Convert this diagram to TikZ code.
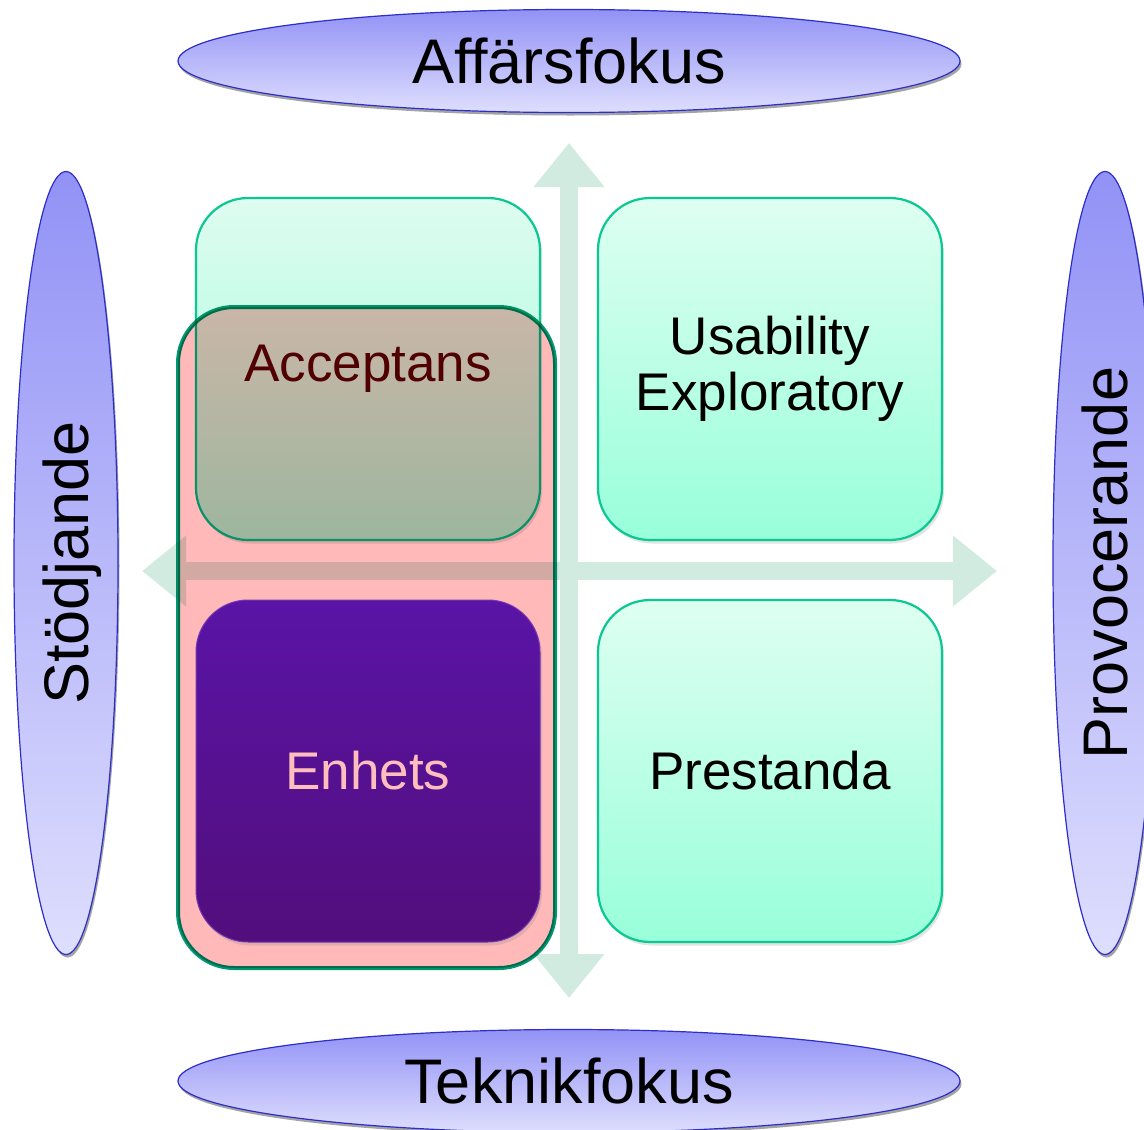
\documentclass[tikz,border=0pt]{standalone}
\usepackage{fontspec}
\setmainfont{Liberation Sans}
\usetikzlibrary{shapes.geometric, shadows, arrows.meta}

\definecolor{elltop}{RGB}{146,146,246}
\definecolor{ellbot}{RGB}{222,222,254}
\definecolor{ellborder}{RGB}{45,45,200}
\definecolor{minttop}{RGB}{222,255,241}
\definecolor{mintbot}{RGB}{152,255,218}
\definecolor{mintborder}{RGB}{10,200,145}
\definecolor{axiscol}{RGB}{210,235,225}
\definecolor{gruppfill}{RGB}{255,185,185}
\definecolor{gruppborder}{RGB}{0,150,110}
\definecolor{enhtop}{RGB}{90,20,166}
\definecolor{enhbot}{RGB}{82,14,124}
\definecolor{enhtext}{RGB}{255,190,190}
\definecolor{acctext}{RGB}{80,0,0}

\begin{document}
\begin{tikzpicture}[x=1pt, y=-1pt,
    pol/.style={ellipse, draw=ellborder, line width=1.2pt,
      top color=elltop, bottom color=ellbot, inner sep=0pt,
      font=\fontsize{63}{70}\selectfont,
      drop shadow={shadow xshift=1.5pt, shadow yshift=-3pt,
        fill=black!45, opacity=0.8}},
    ruta/.style={rectangle, rounded corners=52pt, draw=mintborder,
      line width=2.2pt, top color=minttop, bottom color=mintbot,
      minimum width=344pt, minimum height=342pt, align=center,
      font=\fontsize{53}{56}\selectfont,
      drop shadow={shadow xshift=2pt, shadow yshift=-3.5pt, opacity=0.22}},
    grupp/.style={rectangle, rounded corners=56pt, draw=gruppborder,
      line width=4pt, fill=gruppfill,
      minimum width=377pt, minimum height=661pt},
    axel/.style={draw=axiscol, line width=18pt,
      {Triangle[length=44pt, width=68pt]}-{Triangle[length=44pt, width=68pt]}}
  ]
    \fill[white] (0,0) rectangle (1144,1130);
    \useasboundingbox (0,0) rectangle (1144,1130);

    % Axlar
    \coordinate (axN) at (569,143);
    \coordinate (axS) at (569,998);
    \coordinate (axW) at (142,571);
    \coordinate (axE) at (997,571);
    \draw[axel] (axN) -- (axS);
    \draw[axel] (axW) -- (axE);

    % Poler
    \node[pol, minimum width=782pt, minimum height=103pt] (affar)
      at (569,61) {Affärsfokus};
    \node[pol, minimum width=782pt, minimum height=103pt] (teknik)
      at (569,1081) {Teknikfokus};
    \node[pol, minimum width=104pt, minimum height=783pt] (stod)
      at (66,563) {\rotatebox{90}{\raisebox{0pt}[\height][0pt]{Stödjande}}};
    \node[pol, minimum width=104pt, minimum height=783pt] (provo)
      at (1105,563) {\rotatebox{90}{Provocerande}};

    % Kvadranter
    \node[ruta, text=acctext, fill opacity=0.92, text opacity=1]
      (acceptans) at (368,369) {Acceptans};
    \node[ruta] (usability) at (770,369) {Usability\\Exploratory};
    \node[ruta] (prestanda) at (770,771) {Prestanda};

    % Grupp
    \begin{scope}[blend mode=multiply]
      \node[grupp] (enhetsgrupp) at (366.5,637.5) {};
    \end{scope}
    \node[ruta, draw=enhtop!85!white, line width=1pt, top color=enhtop,
      bottom color=enhbot, text=enhtext] (enhets) at (368,771) {Enhets};
  \end{tikzpicture}
\end{document}
